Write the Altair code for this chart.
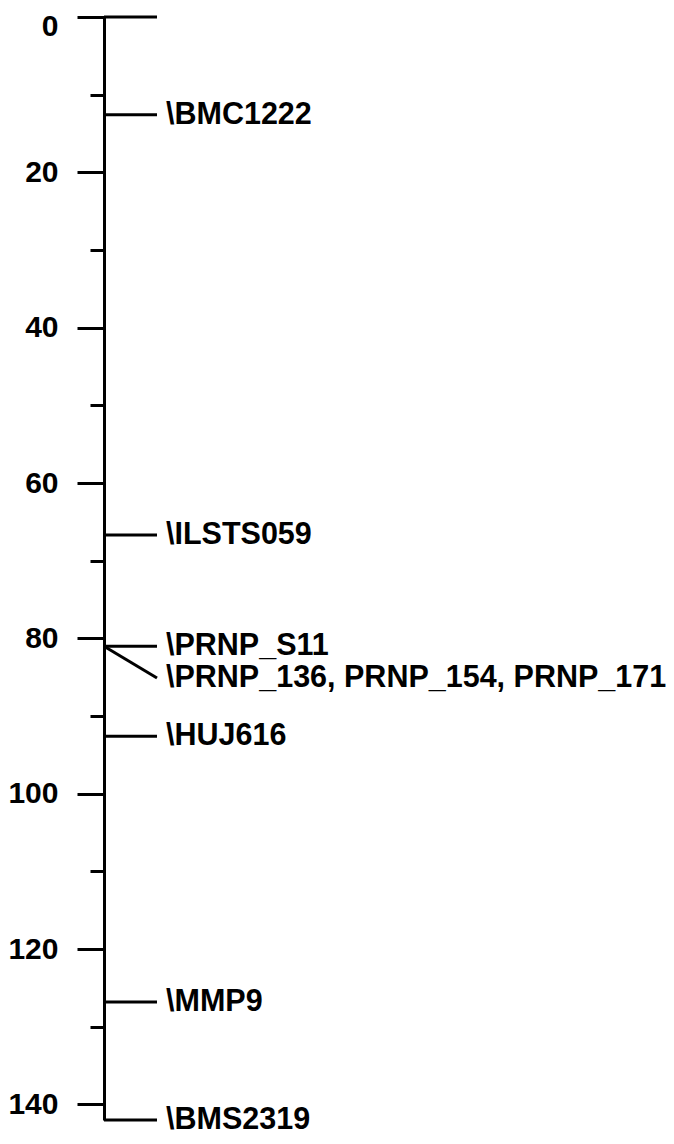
import altair as alt
import pandas as pd

# Linkage map data (cM positions)
marker_names = ["", "\\BMC1222", "\\ILSTS059", "\\PRNP_S11",
                "\\PRNP_136, PRNP_154, PRNP_171", "\\HUJ616", "\\MMP9", "\\BMS2319"]
marker_pos = [0.0, 12.6, 66.7, 81.0, 81.0, 92.6, 126.8, 142.0]
label_pos = [0.0, 12.6, 66.7, 81.0, 85.1, 92.6, 126.8, 142.0]
tick_values = [0, 10, 20, 30, 40, 50, 60, 70, 80, 90, 100, 110, 120, 130, 140]
axis_max = 142.0

FONT = "Liberation Sans"

df = pd.DataFrame({"name": marker_names, "pos": marker_pos, "lab": label_pos})

yscale = alt.Scale(domain=[0, axis_max], nice=False, zero=False, reverse=True)

axis = alt.Axis(
    values=tick_values,
    title=None,
    grid=False,
    domainColor="black",
    domainWidth=3,
    tickColor="black",
    tickWidth=3,
    tickSize={"condition": {"test": "datum.value % 20 === 0", "value": 27}, "value": 14},
    labelExpr="datum.value % 20 === 0 ? datum.label : ''",
    labelOffset={"condition": {"test": "datum.value === 0", "value": 9}, "value": 0},
    labelFont=FONT,
    labelFontSize=30,
    labelFontWeight="bold",
    labelColor="black",
    labelPadding=19,
)

lines = alt.Chart(df).mark_rule(color="black", strokeWidth=3).encode(
    x=alt.value(0),
    x2=alt.value(53),
    y=alt.Y("pos:Q", scale=yscale, axis=axis),
    y2="lab:Q",
)

labels = alt.Chart(df).mark_text(
    align="left", baseline="middle", font=FONT, fontSize=30.5,
    fontWeight="bold", color="black"
).encode(
    x=alt.value(62),
    y=alt.Y("lab:Q", scale=yscale),
    text="name:N",
)

chart = alt.layer(lines, labels).properties(
    width=562,
    height=1103,
    padding={"left": 96, "top": 9, "right": 0, "bottom": 16},
    autosize="none",
    background="white",
).configure_view(stroke=None)

chart.save("out.html", embed_options={"renderer": "svg", "actions": False})
